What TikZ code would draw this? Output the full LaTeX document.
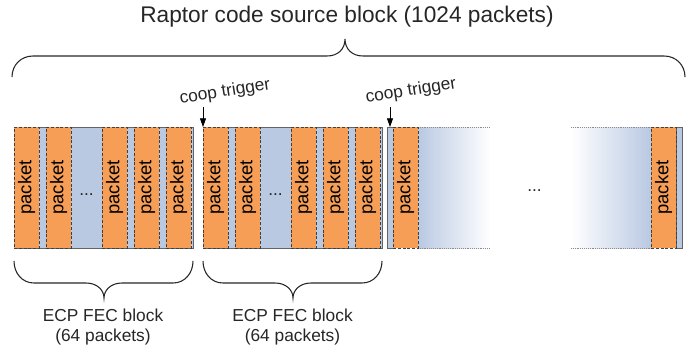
\documentclass[tikz,border=0pt]{standalone}
\usepackage{fontspec}
\setmainfont{Liberation Sans}
\usepackage{xcolor}
\usetikzlibrary{positioning, arrows.meta}

\definecolor{pktorange}{RGB}{246,157,86}
\definecolor{blkblue}{RGB}{185,201,226}
\definecolor{edgegray}{RGB}{100,100,100}

\begin{document}
\begin{tikzpicture}[x=0.75pt,y=-0.75pt,node distance=5.25pt,
    packet/.style={draw=black!75,dash pattern=on 2.2pt off 1.4pt,fill=pktorange,
        minimum width=18.75pt,minimum height=90.75pt,inner sep=0pt,outer sep=0pt,
        font=\fontsize{13.8}{15}\selectfont},
    blockbg/.style={draw=edgegray,fill=blkblue,line width=0.6pt,
        minimum height=90.75pt,inner sep=0pt,outer sep=0pt},
    fade/.style={draw=black!45,dash pattern=on 0.7pt off 0.7pt,line width=0.6pt},
    curly/.style={line width=0.8pt,black!85},
    trig/.style={-{Triangle[width=4.5pt,length=6.5pt]},line width=0.6pt},
    small/.style={font=\fontsize{13}{15.5}\selectfont,text=black!85}]

\useasboundingbox (0,0) rectangle (698,350);

% title and brace over the whole source block
\node[font=\fontsize{17}{20}\selectfont,text=black!85] (title) at (347,17) {Raptor code source block (1024 packets)};
\draw[curly] (12,77) .. controls (12,65) and (21,56) .. (33,56) -- (327,56)
    .. controls (338,56) and (345,49) .. (345,39)
    .. controls (345,49) and (352,56) .. (363,56) -- (664,56)
    .. controls (676,56) and (685,65) .. (685,77);

% first ECP FEC block
\node[blockbg,minimum width=134.25pt] (blk1) at (103.5,187.5) {};
\node[packet] (a1) at (26.5,187.5) {\rotatebox{90}{packet}};
\node[packet,right=of a1] (a2) {\rotatebox{90}{packet}};
\node[packet,right=23.25pt of a2] (a3) {\rotatebox{90}{packet}};
\node[packet,right=of a3] (a4) {\rotatebox{90}{packet}};
\node[packet,right=of a4] (a5) {\rotatebox{90}{packet}};
\path (a2) -- node[small,yshift=-5.5pt] {...} (a3);

% second ECP FEC block
\node[blockbg,minimum width=134.25pt] (blk2) at (292.5,187.5) {};
\node[packet] (b1) at (215.5,187.5) {\rotatebox{90}{packet}};
\node[packet,right=of b1] (b2) {\rotatebox{90}{packet}};
\node[packet,right=23.25pt of b2] (b3) {\rotatebox{90}{packet}};
\node[packet,right=of b3] (b4) {\rotatebox{90}{packet}};
\node[packet,right=of b4] (b5) {\rotatebox{90}{packet}};
\path (b2) -- node[small,yshift=-5.5pt] {...} (b3);

% rest of the source block
\node[blockbg,minimum width=4.5pt] (s1) at (390,187.5) {};
\node[blockbg,minimum width=4.5pt] (s2) at (679,187.5) {};
\shade[left color=blkblue,right color=white] (418,127) rectangle (490,248);
\shade[left color=white,right color=blkblue] (571,127) rectangle (651,248);
\draw[fade] (418,127) -- (490,127) (418,248) -- (490,248);
\draw[fade] (571,127) -- (651,127) (571,248) -- (651,248);
\node[packet] (c1) at (405.5,187.5) {\rotatebox{90}{packet}};
\node[packet] (c2) at (663.5,187.5) {\rotatebox{90}{packet}};
\path (c1) -- node[small,yshift=-2pt] {...} (c2);

% coop triggers
\node[small,rotate=9] (coop1) at (225,92) {coop trigger};
\node[small,rotate=9] (coop2) at (411,91) {coop trigger};
\coordinate (trig1) at (203,107);
\coordinate (trig2) at (390,107);
\draw[trig] (trig1) -- (blk2.north west);
\draw[trig] (trig2) -- (s1.north);

% braces under the ECP FEC blocks
\draw[curly] (14,261) .. controls (14,273) and (22,283) .. (34,283) -- (86,283)
    .. controls (97,283) and (104,290) .. (104,298)
    .. controls (104,290) and (111,283) .. (122,283) -- (173,283)
    .. controls (185,283) and (193,273) .. (193,261);
\draw[curly] (203,261) .. controls (203,273) and (211,283) .. (223,283) -- (275,283)
    .. controls (286,283) and (293,290) .. (293,298)
    .. controls (293,290) and (300,283) .. (311,283) -- (362,283)
    .. controls (374,283) and (382,273) .. (382,261);
\node[small,align=center] (fec1) at (103,327) {ECP FEC block\\(64 packets)};
\node[small,align=center] (fec2) at (292.5,327) {ECP FEC block\\(64 packets)};
\end{tikzpicture}
\end{document}
